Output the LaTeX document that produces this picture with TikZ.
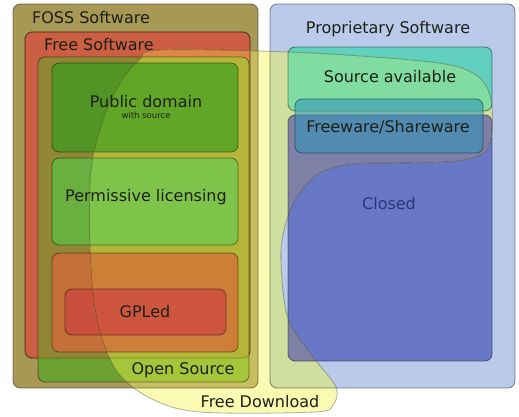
\documentclass[tikz,border=0pt]{standalone}
\usepackage{fontspec}
\setmainfont{DejaVu Sans}
\definecolor{fossA}{RGB}{168,152,85}   \definecolor{fossY}{RGB}{200,190,95}
\definecolor{fsA}{RGB}{204,94,68}      \definecolor{fsY}{RGB}{222,135,72}
\definecolor{osA}{RGB}{108,160,48}     \definecolor{osY}{RGB}{165,198,58}
\definecolor{osfsA}{RGB}{145,135,52}   \definecolor{osfsY}{RGB}{180,182,55}
\definecolor{pdA}{RGB}{82,148,38}      \definecolor{pdY}{RGB}{98,166,40}
\definecolor{perA}{RGB}{106,176,64}    \definecolor{perY}{RGB}{126,196,74}
\definecolor{clA}{RGB}{196,112,56}     \definecolor{clY}{RGB}{205,126,55}
\definecolor{gplA}{RGB}{200,80,60}     \definecolor{gplY}{RGB}{206,86,62}
\definecolor{propA}{RGB}{185,202,235}  \definecolor{propY}{RGB}{208,222,160}
\definecolor{saA}{RGB}{98,208,190}     \definecolor{saY}{RGB}{128,220,160}
\definecolor{clsA}{RGB}{105,120,198}   \definecolor{clsY}{RGB}{126,128,165}
\definecolor{yel}{RGB}{250,250,178}
\definecolor{fw}{RGB}{47,149,188}
\definecolor{txt}{RGB}{30,32,22}
\definecolor{closedtxt}{RGB}{45,52,125}
\tikzset{
  box/.style={draw=black, draw opacity=0.45, line width=0.8pt, rounded corners=7pt},
  lbl/.style={font=\fontsize{16}{19}\selectfont, text=txt, inner sep=0pt},
  small/.style={font=\fontsize{8.5}{10}\selectfont, text=txt, inner sep=0pt}
}
\newcommand\blobpath{plot[smooth cycle, tension=0.55] coordinates{
 (160,50) (290,52) (400,59) (455,66) (481,79) (491,100) (492,130) (485,152)
 (457,161) (400,163) (353,164) (320,173) (297,197) (284,230) (281,263)
 (288,318) (314,358) (336,387) (333,405) (314,412) (200,412) (150,398)
 (116,370) (97,320) (90,250) (91,170) (103,120) (120,83) (139,60)}}
\newcommand\leftstack[8]{%
 \filldraw[box,fill=#1] (13,4) rectangle (258,388);
 \filldraw[box,fill=#2] (25,32) rectangle (250,358);
 \fill[rounded corners=7pt,fill=#3] (38,57) rectangle (249,382);
 \begin{scope}
  \clip[rounded corners=7pt] (25,32) rectangle (250,358);
  \fill[rounded corners=7pt,fill=#4] (38,57) rectangle (249,382);
 \end{scope}
 \draw[box,draw opacity=0.25] (25,32) rectangle (250,358);
 \draw[box] (38,57) rectangle (249,382);
 \filldraw[box,fill=#5] (52,63) rectangle (238,152);
 \filldraw[box,fill=#6] (52,158) rectangle (238,245);
 \filldraw[box,fill=#7] (52,253) rectangle (238,352);
 \filldraw[box,fill=#8] (65,289) rectangle (226,335);
}
\newcommand\rightstack[3]{%
 \filldraw[box,fill=#1] (270,4) rectangle (515,388);
 \filldraw[box,fill=#2] (288,47) rectangle (492,111);
 \filldraw[box,fill=#3] (288,115) rectangle (492,361);
}
\begin{document}
\begin{tikzpicture}[x=1pt,y=-1pt]
\useasboundingbox (0,0) rectangle (519,417);
\fill[white] (0,0) rectangle (519,417);
% boxes outside the Free Download area
\leftstack{fossA}{fsA}{osA}{osfsA}{pdA}{perA}{clA}{gplA}
\rightstack{propA}{saA}{clsA}
% the same boxes inside the Free Download area
\begin{scope}
 \clip \blobpath;
 \fill[yel] (0,0) rectangle (519,417);
 \leftstack{fossY}{fsY}{osY}{osfsY}{pdY}{perY}{clY}{gplY}
 \rightstack{propY}{saY}{clsY}
\end{scope}
\draw[draw=black, draw opacity=0.3, line width=0.8pt] \blobpath;
% Freeware / Shareware
\filldraw[box, fill=fw, fill opacity=0.56] (295,99) rectangle (483,153);
% labels
\node[lbl] (foss) at (91,18) {FOSS Software};
\node[lbl] (fs) at (99,45) {Free Software};
\node[lbl] (pd) at (146,102) {Public domain};
\node[small] (ws) at (146,115) {with source};
\node[lbl] (perm) at (146,197) {Permissive licensing};
\node[lbl] (gpl) at (145,312) {GPLed};
\node[lbl] (os) at (183,370) {Open Source};
\node[lbl] (fd) at (260,402) {Free Download};
\node[lbl] (prop) at (388,29) {Proprietary Software};
\node[lbl] (sa) at (390,77) {Source available};
\node[lbl] (fws) at (388,127) {Freeware/Shareware};
\node[lbl, text=closedtxt] (cl) at (389,204) {Closed};
\end{tikzpicture}
\end{document}
